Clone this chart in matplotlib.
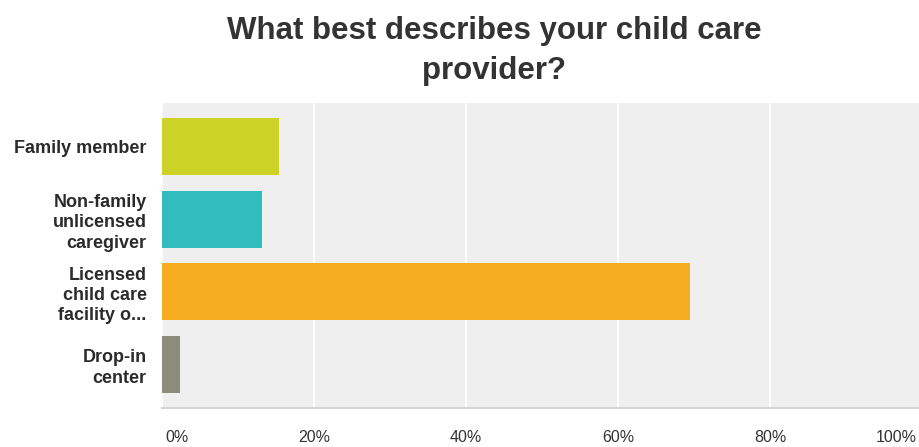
import matplotlib
matplotlib.use("Agg")
import matplotlib.pyplot as plt
from matplotlib.ticker import FixedLocator

plt.rcParams['font.family'] = ['Liberation Sans', 'DejaVu Sans']

categories = ["Family member", "Non-family\nunlicensed\ncaregiver",
              "Licensed\nchild care\nfacility o...", "Drop-in\ncenter"]
values = [15.4, 13.2, 69.5, 2.4]
colors = ["#CDD326", "#33BCBD", "#F6AE20", "#8B8C7B"]
tick_vals = [0, 20, 40, 60, 80, 100]
tick_labels = ["0%", "20%", "40%", "60%", "80%", "100%"]

W, H = 919, 447
fig = plt.figure(figsize=(W / 100, H / 100), dpi=100)
ax = fig.add_axes([162 / W, 1 - 408 / H, (919 - 162) / W, (408 - 103) / H])
ax.set_facecolor("#EFEFEF")

ypos = list(range(len(categories)))
ax.barh(ypos, values, height=0.78, color=colors, zorder=3)
ax.set_ylim(3.6, -0.6)
ax.set_xlim(0, 99.6)

ax.xaxis.set_major_locator(FixedLocator(tick_vals))
ax.grid(axis="x", color="white", linewidth=1.5, zorder=1)
ax.set_xticklabels([])
ax.tick_params(axis="x", length=0)
ax.tick_params(axis="y", length=0)
ax.set_yticks(ypos)
ax.set_yticklabels(categories, fontsize=13, fontweight="bold",
                   color="#2B2B2B", linespacing=1.25)
ax.tick_params(axis="y", pad=11)

for s in ["top", "right", "left"]:
    ax.spines[s].set_visible(False)
ax.spines["bottom"].set_color("#D6D6D6")
ax.spines["bottom"].set_linewidth(1.5)

# percentage labels below the plot area
for v, lab in zip(tick_vals, tick_labels):
    xd = ax.transData.transform((v, 0))[0]
    if v == 0:
        x, ha = (xd + 3) / W, "left"
    elif v == 100:
        x, ha = 917 / W, "right"
    else:
        x, ha = xd / W, "center"
    fig.text(x, 1 - 437 / H, lab, ha=ha, va="center",
             fontsize=11.5, color="#333333")

fig.text(494 / W, 1 - 51 / H, "What best describes your child care\nprovider?",
         ha="center", va="center", fontsize=22.5, fontweight="bold",
         color="#333333", linespacing=1.45)

fig.savefig("out.png", dpi=100, facecolor="white")
